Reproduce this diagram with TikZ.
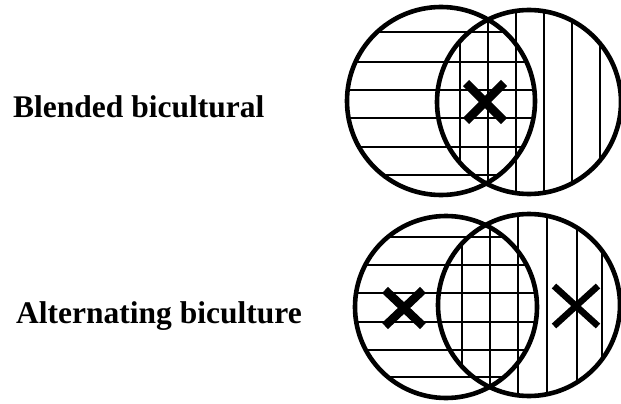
\documentclass[tikz,border=0pt]{standalone}
\usepackage{fontspec}
\setmainfont{Liberation Serif}
\usetikzlibrary{calc}
\begin{document}
\begin{tikzpicture}[x=1pt,y=-1pt,
  ring/.style={line width=4.6pt},
  hatch/.style={line width=2.8pt},
  cross/.style={line width=8.5pt},
  thincross/.style={line width=6.5pt},
  label/.style={anchor=base west,inner sep=0pt,font=\fontsize{31.5}{36}\selectfont\bfseries}]
\useasboundingbox (0,0) rectangle (621,404);
% labels
\node[label] (l1) at (13,117) {Blended bicultural};
\node[label] (l2) at (16,323) {Alternating biculture};
% ---- top figure ----
\coordinate (tl) at (441,101);
\coordinate (tr) at (529,102);
\begin{scope}
  \clip (tl) circle[radius=94];
  \foreach \yy in {32,62,90,118,147,175} \draw[hatch] (340,\yy) -- (545,\yy);
\end{scope}
\begin{scope}
  \clip (tr) circle[radius=92];
  \foreach \xx in {460,488,516,544,572,600} \draw[hatch] (\xx,0) -- (\xx,200);
\end{scope}
\draw[ring] (tl) circle[radius=94];
\draw[ring] (tr) circle[radius=92];
\coordinate (x1) at (485,102);
\draw[cross] ($(x1)+(-19,-19)$) -- ($(x1)+(19,19)$);
\draw[cross] ($(x1)+(19,-19)$) -- ($(x1)+(-19,19)$);
% ---- bottom figure ----
\coordinate (bl) at (446,307);
\coordinate (br) at (529,305);
\begin{scope}
  \clip (bl) circle[radius=91];
  \foreach \yy in {237,265,293,322,350,377} \draw[hatch] (350,\yy) -- (545,\yy);
\end{scope}
\begin{scope}
  \clip (br) circle[radius=91];
  \foreach \xx in {462,490,518,547,577,602} \draw[hatch] (\xx,210) -- (\xx,400);
\end{scope}
\draw[ring] (bl) circle[radius=91];
\draw[ring] (br) circle[radius=91];
\coordinate (x2) at (404,308);
\draw[cross] ($(x2)+(-19,-18)$) -- ($(x2)+(19,18)$);
\draw[cross] ($(x2)+(19,-18)$) -- ($(x2)+(-19,18)$);
\coordinate (x3) at (576,306);
\draw[thincross] ($(x3)+(-22,-20)$) -- ($(x3)+(22,20)$);
\draw[thincross] ($(x3)+(22,-20)$) -- ($(x3)+(-22,20)$);
\end{tikzpicture}
\end{document}
